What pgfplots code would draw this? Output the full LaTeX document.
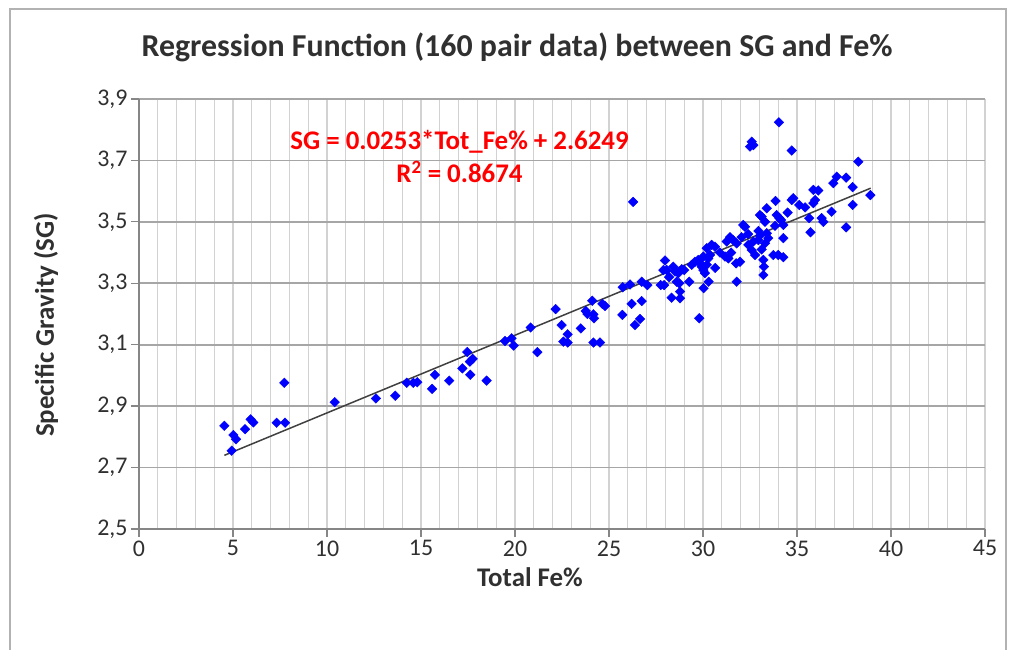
\documentclass[border=0pt]{standalone}
\usepackage{fontspec}
\setmainfont{Carlito}
\usepackage{pgfplots}
\usepackage{pgfplotstable}
\pgfplotsset{compat=1.18}
\definecolor{gridv}{HTML}{D2D2D2}
\definecolor{gridh}{HTML}{A6A6A6}
\definecolor{axisgray}{HTML}{868686}
\definecolor{txt}{HTML}{303030}

% Fe% vs SG
\pgfplotstableread{
x y
4.54 2.836
5.02 2.806
5.16 2.792
4.93 2.755
5.64 2.825
5.94 2.857
6.08 2.847
7.32 2.846
7.77 2.846
7.73 2.976
10.41 2.913
12.60 2.925
13.63 2.934
14.24 2.976
14.59 2.976
14.80 2.978
15.59 2.956
15.74 3.002
16.50 2.983
17.20 3.023
17.46 3.076
17.60 3.045
17.75 3.054
17.62 3.002
18.49 2.983
19.47 3.112
19.82 3.121
19.93 3.097
20.83 3.156
21.19 3.076
22.16 3.216
22.48 3.164
22.80 3.134
22.57 3.110
22.80 3.107
23.50 3.153
23.76 3.210
23.85 3.200
24.11 3.243
24.17 3.199
24.20 3.186
24.17 3.107
24.52 3.107
24.65 3.233
24.79 3.226
25.73 3.287
26.12 3.296
26.20 3.233
25.71 3.197
26.38 3.164
26.65 3.184
26.74 3.242
26.74 3.305
27.04 3.294
26.28 3.565
27.75 3.294
27.93 3.294
27.98 3.374
27.89 3.343
28.07 3.343
28.33 3.253
28.78 3.251
28.78 3.273
28.42 3.354
28.51 3.338
28.69 3.333
28.87 3.346
29.00 3.343
28.60 3.305
28.74 3.300
29.27 3.305
29.80 3.186
30.03 3.284
30.30 3.305
29.57 3.370
29.75 3.376
29.84 3.365
29.93 3.354
30.02 3.343
30.10 3.333
30.20 3.360
30.28 3.381
30.37 3.392
30.02 3.387
30.20 3.414
30.46 3.425
30.64 3.419
31.26 3.436
31.44 3.450
31.17 3.387
31.35 3.381
31.76 3.365
31.97 3.370
31.79 3.305
31.60 3.441
31.79 3.430
32.41 3.425
32.59 3.408
32.77 3.392
32.68 3.436
32.94 3.441
33.21 3.376
33.24 3.354
33.21 3.327
33.30 3.430
33.47 3.447
33.39 3.463
32.14 3.490
32.23 3.484
33.03 3.522
33.12 3.517
33.39 3.544
33.86 3.568
33.92 3.522
34.06 3.512
34.15 3.506
33.83 3.487
34.27 3.490
34.27 3.447
33.74 3.392
34.00 3.392
34.27 3.385
34.72 3.571
34.80 3.577
35.12 3.555
35.43 3.547
35.65 3.512
35.72 3.466
35.87 3.604
36.13 3.602
35.96 3.571
35.87 3.561
36.31 3.512
36.40 3.500
36.84 3.533
36.93 3.626
37.11 3.647
37.61 3.644
37.96 3.613
37.96 3.555
37.61 3.482
38.26 3.696
38.90 3.587
34.04 3.824
32.59 3.761
32.68 3.750
32.50 3.745
34.72 3.732
32.05 3.450
32.40 3.460
33.03 3.455
33.12 3.410
30.90 3.400
29.40 3.360
28.20 3.320
33.30 3.500
34.50 3.530
31.50 3.400
32.95 3.470
30.65 3.350
}\fedata

\newcommand\tickfont{\fontsize{24}{28}\selectfont\color{txt}}

\begin{document}
\begin{tikzpicture}[x=1bp,y=1bp]
\path[use as bounding box] (0,0) rectangle (1016,650);
\draw[gray!60, line width=1.5bp] (10,0) -- (10,641) -- (1006,641) -- (1006,0);

\node[font=\bfseries\fontsize{32}{36}\selectfont, txt] at (517,603)
  {Regression Function (160 pair data) between SG and Fe\%};

\begin{axis}[
    at={(139bp,121bp)}, anchor=south west,
    scale only axis, width=846bp, height=430bp,
    xmin=0, xmax=45, ymin=2.5, ymax=3.9,
    xtick={0,5,...,45}, minor x tick num=4,
    ytick={2.5,2.7,2.9,3.1,3.3,3.5,3.7,3.9},
    /pgf/number format/assume math mode=true,
    xticklabel={\tickfont\pgfmathprintnumber{\tick}},
    yticklabel={\tickfont\pgfmathprintnumber[fixed,fixed zerofill,precision=1,use comma]{\tick}},
    xmajorgrids, xminorgrids, ymajorgrids,
    major x grid style={gridv, line width=1.3bp},
    minor x grid style={gridv, line width=1.3bp},
    major y grid style={gridh, line width=1.6bp},
    axis x line*=bottom, axis y line*=left,
    axis line style={axisgray, line width=1.3bp, -},
    tick align=outside, major tick length=8bp, minor tick length=0pt,
    tick style={axisgray, line width=1.3bp},
]
\addplot[only marks, blue, mark=square*, mark size=3.4bp,
  mark options={rotate=45, fill=blue, draw=blue}] table {\fedata};
\addplot[black!75, line width=1.5bp] coordinates {(4.54,2.7398) (38.92,3.6096)};
\node[red, font=\bfseries\fontsize{27}{30}\selectfont] at (axis cs:17.05,3.76)
  {SG = 0.0253*Tot\_Fe\% + 2.6249};
\node[red, font=\bfseries\fontsize{27}{30}\selectfont] at (axis cs:17.05,3.662)
  {R\textsuperscript{2} = 0.8674};
\end{axis}

\node[font=\bfseries\fontsize{27}{30}\selectfont, txt] at (530,73) {Total Fe\%};
\node[font=\bfseries\fontsize{27}{30}\selectfont, txt, rotate=90] at (46,325) {Specific Gravity (SG)};
\end{tikzpicture}
\end{document}
